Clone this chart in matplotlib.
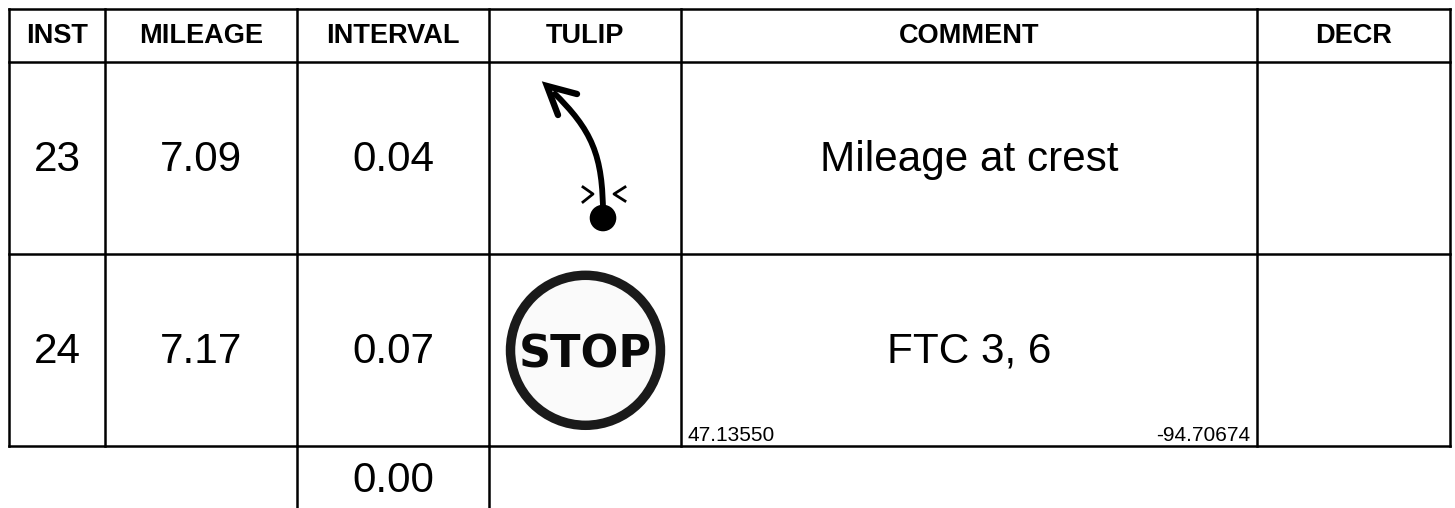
import matplotlib
matplotlib.use("Agg")
import matplotlib.pyplot as plt
from matplotlib.patches import Circle, PathPatch
from matplotlib.path import Path

plt.rcParams["font.family"] = ["Liberation Sans", "DejaVu Sans"]

# table content
headers = ["INST", "MILEAGE", "INTERVAL", "TULIP", "COMMENT", "DECR"]
inst = ["23", "24"]
mileage = ["7.09", "7.17"]
interval = ["0.04", "0.07"]
comments = ["Mileage at crest", "FTC 3, 6"]
extra_interval = "0.00"
latitude = "47.13550"
longitude = "-94.70674"

# grid layout, in image pixels
col_x = [9, 105, 297, 489, 681, 1257, 1450]
row_y = [9, 62, 254, 446]
bottom = 508
lw = 1.8

fig = plt.figure(figsize=(14.55, 5.08), dpi=100)
ax = fig.add_axes([0, 0, 1, 1])
ax.set_xlim(0, 1455)
ax.set_ylim(508, 0)
ax.axis("off")

for x in col_x:
    ax.plot([x, x], [row_y[0], row_y[-1]], color="black", lw=lw, solid_capstyle="projecting")
for y in row_y:
    ax.plot([col_x[0], col_x[-1]], [y, y], color="black", lw=lw, solid_capstyle="projecting")
for x in col_x[2:4]:
    ax.plot([x, x], [row_y[-1], bottom], color="black", lw=lw)

centers = [(a + b) / 2 for a, b in zip(col_x[:-1], col_x[1:])]
baselines = [171, 363]

for cx, h in zip(centers, headers):
    ax.text(cx, 43, h, ha="center", va="baseline", fontsize=19.5, fontweight="bold")

for i, yb in enumerate(baselines):
    ax.text(centers[0], yb, inst[i], ha="center", va="baseline", fontsize=30.4)
    ax.text(centers[1], yb, mileage[i], ha="center", va="baseline", fontsize=30.4)
    ax.text(centers[2], yb, interval[i], ha="center", va="baseline", fontsize=30.4)
    ax.text(centers[4], yb, comments[i], ha="center", va="baseline", fontsize=30.4)

ax.text(centers[2], 492, extra_interval, ha="center", va="baseline", fontsize=30.4)
ax.text(687, 441, latitude, ha="left", va="baseline", fontsize=15)
ax.text(1250, 441, longitude, ha="right", va="baseline", fontsize=15)

# tulip: curved arrow with crest marks
curve = Path([(603, 215), (603, 155), (592, 130), (553, 92)],
             [Path.MOVETO, Path.CURVE4, Path.CURVE4, Path.CURVE4])
ax.add_patch(PathPatch(curve, fc="none", ec="black", lw=4.2, capstyle="butt"))
ax.plot([577, 547, 558], [94, 86, 115], color="black", lw=4.6,
        solid_capstyle="round", solid_joinstyle="miter")
ax.add_patch(Circle((603, 218), 13.3, fc="black", ec="none"))
ax.plot([583, 593, 583], [187, 194, 202], color="black", lw=2.0)
ax.plot([625, 614, 625], [187, 194, 201], color="black", lw=2.0)

# tulip: stop sign
ax.add_patch(Circle((585.5, 350.3), 75, fc="#fafafa", ec="#1a1a1a", lw=6.8))
ax.text(585.5, 367, "STOP", ha="center", va="baseline", fontsize=32,
        fontweight="bold", family="DejaVu Sans", color="#0a0a0a")

fig.savefig("out.png", dpi=100)
